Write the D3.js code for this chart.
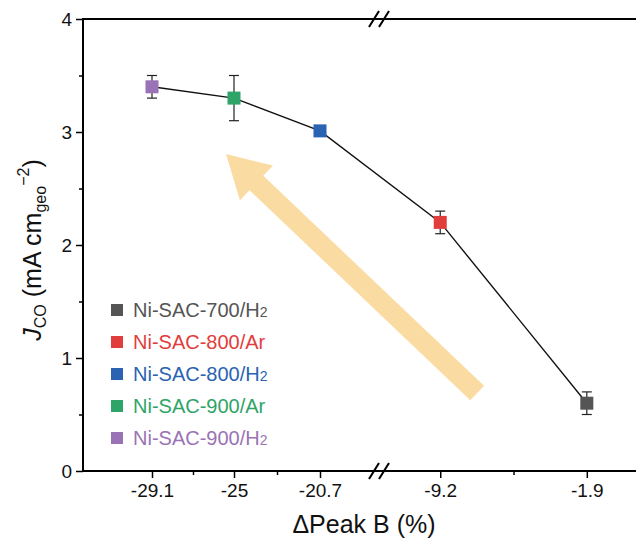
<!DOCTYPE html>
<html><head><meta charset="utf-8">
<script src="https://cdn.jsdelivr.net/npm/d3@7"></script>
<style>body{margin:0;background:#fff}svg{display:block}text{font-family:"Liberation Sans",Arial,sans-serif}</style>
</head><body><svg id="c" width="636" height="546"></svg>
<script>
const categories = ["Ni-SAC-900/H2","Ni-SAC-900/Ar","Ni-SAC-800/H2","Ni-SAC-800/Ar","Ni-SAC-700/H2"];
const peakB = [-29.1, -25, -20.7, -9.2, -1.9];
const jco = [3.4, 3.3, 3.01, 2.2, 0.6];
const jErr = [0.1, 0.2, 0.02, 0.1, 0.1];
const colors = ["#9a72b6", "#2fa468", "#2a63b1", "#e23d3d", "#555555"];
const legendOrder = [4, 3, 2, 1, 0];
const xTickLabels = ["-29.1", "-25", "-20.7", "-9.2", "-1.9"];
const xMinorTicks = [-27.05, -22.85, -5.55];
const yTicks = [0, 1, 2, 3, 4];
const yMinorTicks = [0.5, 1.5, 2.5, 3.5];
const arrowFrom = [-7.36, 0.69], arrowTo = [-25.4, 2.805];

const svg = d3.select("#c");
const L = 83, R = 636, T = 19, B = 471, BRK = 379;
const x = d3.scaleLinear().domain([-32.55, -17.75, -12.25, 0.55]).range([L, BRK, BRK, R]);
const y = d3.scaleLinear().domain([0, 4]).range([B, T]);

// arrow
(function(){
  const x0 = x(arrowFrom[0]), y0 = y(arrowFrom[1]), x1 = x(arrowTo[0]), y1 = y(arrowTo[1]);
  const dx = x1 - x0, dy = y1 - y0, len = Math.hypot(dx, dy);
  const ux = dx/len, uy = dy/len, px = -uy, py = ux;
  const sw = 10, hw = 24, hl = 42;
  const bx = x1 - ux*hl, by = y1 - uy*hl;
  const pts = [[x0+px*sw, y0+py*sw],[bx+px*sw, by+py*sw],[bx+px*hw, by+py*hw],[x1,y1],[bx-px*hw, by-py*hw],[bx-px*sw, by-py*sw],[x0-px*sw, y0-py*sw]];
  svg.append("path").attr("d", d3.line()(pts)+"Z").attr("fill", "#fadca2");
})();

// axes
const yAxis = d3.axisLeft(y).tickValues(yTicks).tickSize(7).tickPadding(4).tickFormat(d3.format("d"));
const gy = svg.append("g").attr("transform", `translate(${L},0)`).call(yAxis);
const gym = svg.append("g").attr("transform", `translate(${L},0)`).call(d3.axisLeft(y).tickValues(yMinorTicks).tickSize(4).tickFormat(""));
const xAxis = d3.axisBottom(x).tickValues(peakB).tickSize(7).tickPadding(6).tickFormat((d,i)=>xTickLabels[i]);
const gx = svg.append("g").attr("transform", `translate(0,${B})`).call(xAxis);
const gxm = svg.append("g").attr("transform", `translate(0,${B})`).call(d3.axisBottom(x).tickValues(xMinorTicks).tickSize(4).tickFormat(""));
[gy, gym, gx, gxm].forEach(g => {
  g.select(".domain").remove();
  g.selectAll("line").attr("stroke", "#000").attr("stroke-width", 1.5);
  g.selectAll("text").attr("font-size", 19).attr("fill", "#111").attr("font-family", "Liberation Sans, Arial, sans-serif");
});
svg.append("line").attr("x1", L).attr("x2", L).attr("y1", T-1).attr("y2", B+1).attr("stroke", "#000").attr("stroke-width", 2);
[T, B].forEach(yy => {
  svg.append("line").attr("x1", L).attr("x2", R).attr("y1", yy).attr("y2", yy).attr("stroke", "#000").attr("stroke-width", 2);
  [-5, 5].forEach(o => svg.append("line").attr("x1", BRK+o-5).attr("x2", BRK+o+5).attr("y1", yy+8).attr("y2", yy-8).attr("stroke", "#000").attr("stroke-width", 2));
});

// connecting line
svg.append("path").datum(peakB.map((v,i)=>[x(v), y(jco[i])]))
  .attr("d", d3.line()).attr("fill", "none").attr("stroke", "#111").attr("stroke-width", 1.4);

// error bars
const eb = svg.append("g").attr("stroke", "#222").attr("stroke-width", 1.2);
peakB.forEach((v,i) => {
  const cx = x(v), ya = y(jco[i]+jErr[i]), yb = y(jco[i]-jErr[i]);
  eb.append("line").attr("x1", cx).attr("x2", cx).attr("y1", ya).attr("y2", yb);
  eb.append("line").attr("x1", cx-5).attr("x2", cx+5).attr("y1", ya).attr("y2", ya);
  eb.append("line").attr("x1", cx-5).attr("x2", cx+5).attr("y1", yb).attr("y2", yb);
});
// markers
const S = 13;
svg.append("g").selectAll("rect").data(peakB).join("rect")
  .attr("x", d => x(d)-S/2).attr("y", (d,i) => y(jco[i])-S/2).attr("width", S).attr("height", S)
  .attr("fill", (d,i) => colors[i]);

// legend
const lg = svg.append("g");
legendOrder.forEach((idx, r) => {
  const yy = 310 + r*32;
  lg.append("rect").attr("x", 111).attr("y", yy-6).attr("width", 12).attr("height", 12).attr("fill", colors[idx]);
  const name = categories[idx];
  const t = lg.append("text").attr("x", 133).attr("y", yy+7).attr("font-size", 20).attr("fill", colors[idx]);
  if (name.endsWith("H2")) {
    t.append("tspan").text(name.slice(0, -1));
    t.append("tspan").attr("font-size", 14).text("2");
  } else t.text(name);
});

// axis titles
const yl = svg.append("text").attr("transform", "translate(41,250) rotate(-90)").attr("text-anchor", "middle").attr("font-size", 25).attr("fill", "#111");
yl.append("tspan").attr("font-style", "italic").text("J");
yl.append("tspan").attr("font-size", 16).attr("dy", 5).text("CO");
yl.append("tspan").attr("dy", -5).text(" (mA cm");
yl.append("tspan").attr("font-size", 16).attr("dy", 5).text("geo");
yl.append("tspan").attr("font-size", 16).attr("dy", -17).text("\u22122");
yl.append("tspan").attr("dy", 12).text(")");
svg.append("text").attr("x", 364).attr("y", 533).attr("text-anchor", "middle").attr("font-size", 25).attr("fill", "#111").text("\u0394Peak B (%)");
</script></body></html>
